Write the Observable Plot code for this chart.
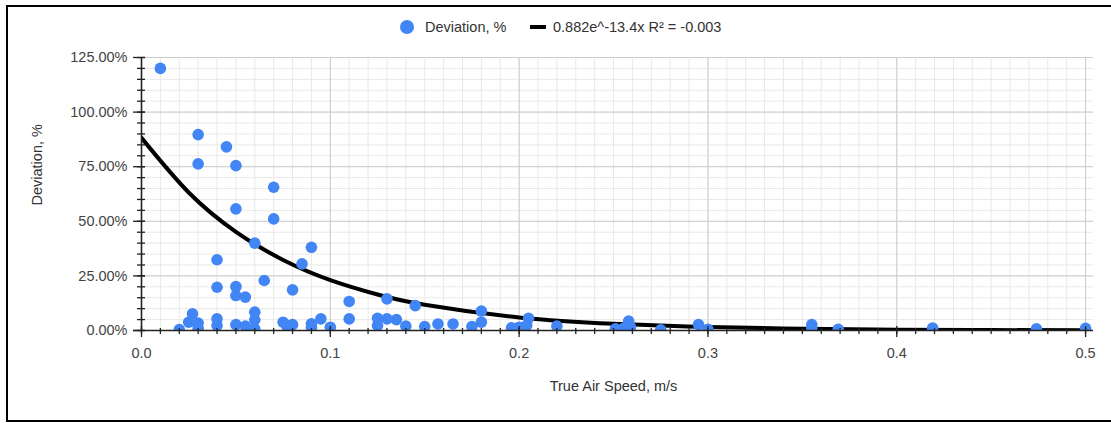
<!DOCTYPE html>
<html>
<head>
<meta charset="utf-8">
<script src="https://cdn.jsdelivr.net/npm/d3@7"></script>
<script src="https://cdn.jsdelivr.net/npm/@observablehq/plot@0.6"></script>
<style>
  body { margin: 0; background: #fff; }
  #wrap { position: relative; width: 1111px; height: 423px; overflow: hidden; background: #fff; font-family: "Liberation Sans", Arial, sans-serif; }
  #legend { position: relative; height: 45px; color: #333; font-size: 14.5px; }
  #legend .sw-dot { position: absolute; left: 400px; top: 20px; width: 14px; height: 14px; border-radius: 50%; background: #4285F4; }
  #legend .sw-line { position: absolute; left: 530px; top: 25px; width: 16px; height: 4px; background: #000; }
  #legend .lab { position: absolute; top: 18px; line-height: 18px; white-space: nowrap; }
  #frame { position: absolute; left: 6px; top: 5px; width: 1200px; height: 413px; border-left: 2px solid #000; border-top: 2px solid #000; border-bottom: 2px solid #000; pointer-events: none; }
  #chart svg { display: block; }
</style>
</head>
<body>
<div id="wrap">
  <div id="legend">
    <span class="sw-dot"></span><span class="lab" id="lab1" style="left:425px"></span>
    <span class="sw-line"></span><span class="lab" id="lab2" style="left:553px"></span>
  </div>
  <div id="chart"></div>
  <div id="frame"></div>
</div>
<script>
// ---- data ----
const seriesName = "Deviation, %";
const trendLabel = "0.882e^-13.4x R² = -0.003";
const xTitle = "True Air Speed, m/s";
const yTitle = "Deviation, %";

const speed = [
  0.01, 0.03, 0.045, 0.03, 0.05, 0.07, 0.05, 0.07, 0.06, 0.09,
  0.085, 0.04, 0.065, 0.04, 0.05, 0.05, 0.055, 0.08, 0.02, 0.027,
  0.025, 0.03, 0.03, 0.04, 0.04, 0.05, 0.055, 0.06, 0.06, 0.06,
  0.075, 0.077, 0.08, 0.09, 0.095, 0.1, 0.11, 0.11, 0.125, 0.125,
  0.13, 0.13, 0.135, 0.14, 0.145, 0.15, 0.157, 0.165, 0.175, 0.18,
  0.18, 0.196, 0.2, 0.205, 0.204, 0.22, 0.251, 0.2555, 0.258, 0.259,
  0.275, 0.295, 0.3, 0.355, 0.355, 0.369, 0.419, 0.474, 0.5, 0.09
];
const deviation = [
  120, 89.7, 84.1, 76.3, 75.5, 65.6, 55.7, 51.1, 40, 38.1,
  30.5, 32.4, 22.9, 19.8, 20.1, 16, 15.3, 18.6, 0.4, 7.6,
  3.8, 3.4, 1, 5.3, 2.3, 2.7, 2, 8.4, 4.9, 0.8,
  3.8, 2, 2.7, 3.1, 5.3, 1.5, 13.3, 5.3, 5.6, 2.3,
  14.5, 5.3, 5, 2, 11.4, 1.8, 3, 3, 1.8, 8.9,
  3.8, 1.2, 1.5, 5.6, 2.3, 2, 0.8, 1.1, 4.3, 1.6,
  0.3, 2.7, 0.5, 2.7, 1, 0.5, 1.1, 0.8, 1, 1.5
];

// trendline
const trendSpeed = [0, 0.025, 0.05, 0.075, 0.1, 0.125, 0.15, 0.2, 0.25, 0.3, 0.35, 0.4, 0.45, 0.5];
const trendDeviation = [88.2, 63.2, 45.2, 32.3, 23.1, 16.5, 11.8, 6.0, 3.1, 1.6, 0.8, 0.4, 0.2, 0.1];

const xTickValues = [0, 0.1, 0.2, 0.3, 0.4, 0.5];
const xTickLabels = ["0.0", "0.1", "0.2", "0.3", "0.4", "0.5"];
const yTickValues = [0, 25, 50, 75, 100, 125];
const yTickLabels = ["0.00%", "25.00%", "50.00%", "75.00%", "100.00%", "125.00%"];
const xMinorValues = d3.range(0, 51).map(i => i / 100);
const yMinorValues = d3.range(0, 26).map(i => i * 5);

// ---- build ----
document.getElementById("lab1").textContent = seriesName;
document.getElementById("lab2").textContent = trendLabel;

const points = speed.map((s, i) => ({s, d: deviation[i]}));
const trend = trendSpeed.map((s, i) => ({s, d: trendDeviation[i]}));
const xTicks = xTickValues.map((v, i) => ({v, label: xTickLabels[i]}));
const yTicks = yTickValues.map((v, i) => ({v, label: yTickLabels[i]}));

const font = "Liberation Sans, Arial, sans-serif";

const chart = Plot.plot({
  width: 1111,
  height: 378,
  marginLeft: 141,
  marginRight: 18,
  marginTop: 12,
  marginBottom: 93,
  style: {fontFamily: font, background: "transparent", overflow: "visible"},
  x: {domain: [0, 0.5042], axis: null},
  y: {domain: [0, 125], axis: null},
  marks: [
    // minor grid
    Plot.ruleX(xMinorValues, {x: d => d, stroke: "#e9e9e9", strokeWidth: 1}),
    Plot.ruleY(yMinorValues, {y: d => d, stroke: "#e9e9e9", strokeWidth: 1}),
    // major grid
    Plot.ruleX(xTickValues, {x: d => d, stroke: "#cccccc", strokeWidth: 1}),
    Plot.ruleY(yTickValues, {y: d => d, stroke: "#cccccc", strokeWidth: 1}),
    // trendline
    Plot.line(trend, {x: "s", y: "d", stroke: "#000", strokeWidth: 4, curve: "natural", clip: true}),
    // points
    Plot.dot(points, {x: "s", y: "d", r: 5.8, fill: "#4285F4", clip: true}),
    // axis lines
    Plot.ruleX([0], {x: d => d, stroke: "#222", strokeWidth: 1.6}),
    Plot.ruleY([0], {y: d => d, stroke: "#222", strokeWidth: 1.6, insetLeft: -8}),
    // minor ticks
    Plot.ruleX(xMinorValues, {x: d => d, y1: 0, y2: 0, insetTop: 4, insetBottom: 2, stroke: "#222", strokeWidth: 1.3}),
    Plot.ruleY(yMinorValues, {y: d => d, x1: 0, x2: 0, insetLeft: -4, insetRight: -4, stroke: "#222", strokeWidth: 1.3}),
    // major ticks
    Plot.ruleX(xTickValues, {x: d => d, y1: 0, y2: 0, insetTop: 7, insetBottom: 4, stroke: "#222", strokeWidth: 1.3}),
    Plot.ruleY(yTickValues, {y: d => d, x1: 0, x2: 0, insetLeft: -8, insetRight: -4, stroke: "#222", strokeWidth: 1.3}),
    // tick labels
    Plot.text(xTicks, {x: "v", y: () => 0, text: "label", dy: 23, fontSize: 14.5, fill: "#444"}),
    Plot.text(yTicks, {x: () => 0, y: "v", text: "label", dx: -14, textAnchor: "end", fontSize: 14.5, fill: "#444"}),
    // axis titles
    Plot.text([xTitle], {frameAnchor: "bottom", text: d => d, dy: 60, dx: -4, fontSize: 14.5, fill: "#333"}),
    Plot.text([yTitle], {frameAnchor: "left", text: d => d, dx: -104, dy: 11.5, rotate: -90, fontSize: 14.5, fill: "#333"})
  ]
});
document.getElementById("chart").appendChild(chart);
</script>
</body>
</html>
